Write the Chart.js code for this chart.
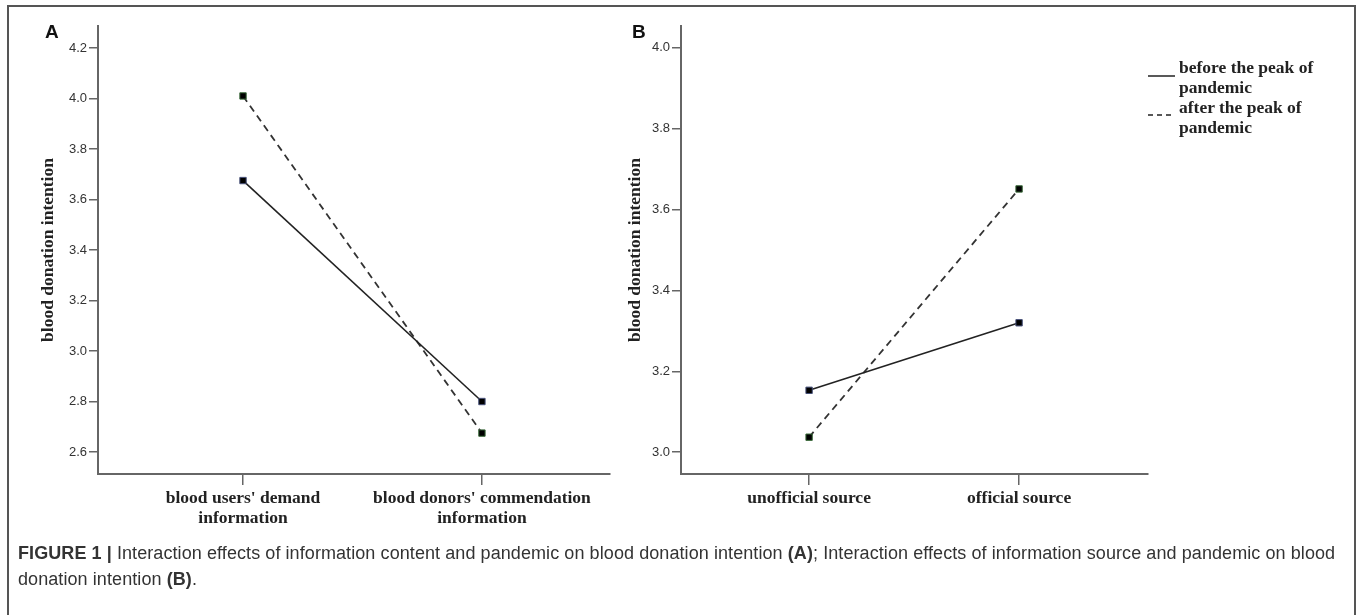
<!DOCTYPE html>
<html>
<head>
<meta charset="utf-8">
<script src="https://cdn.jsdelivr.net/npm/chart.js"></script>
<style>
body{margin:0;background:#fff;width:1357px;height:615px;overflow:hidden;position:relative;font-family:"Liberation Sans",Arial,sans-serif}
#frame{position:absolute;left:7px;top:5px;width:1345px;height:700px;border:2px solid #555}
canvas{position:absolute}
#chartA{left:0;top:0}
#chartB{left:620px;top:0}
.plab{position:absolute;font:bold 19px "Liberation Sans",Arial,sans-serif;line-height:19px;color:#111}
#legend{position:absolute;left:1148px;top:57px;font:bold 17.5px "Liberation Serif","Times New Roman",serif;color:#222;line-height:20px}
.item{display:flex;align-items:flex-start}
.item svg{flex:none;margin-right:4px}
.item div{width:165px}
#caption{position:absolute;left:18px;top:540px;width:1335px;font:18px "Liberation Sans Narrow","Liberation Sans",sans-serif;letter-spacing:0.08px;color:#333;line-height:26px;white-space:nowrap}
</style>
</head>
<body>
<div id="frame"></div>
<canvas id="chartA" width="640" height="545"></canvas>
<canvas id="chartB" width="538" height="545"></canvas>
<div class="plab" style="left:45px;top:22px">A</div>
<div class="plab" style="left:632px;top:22px">B</div>
<div id="legend"></div>
<div id="caption"><b>FIGURE 1 |</b> Interaction effects of information content and pandemic on blood donation intention <b>(A)</b>; Interaction effects of information source and pandemic on blood<br>donation intention <b>(B)</b>.</div>
<script>
// categories
var catsA=[["blood users' demand","information"],["blood donors' commendation","information"]];
var catsB=["unofficial source","official source"];
var seriesNames=["before the peak of pandemic","after the peak of pandemic"];
// values
var beforeA=[3.675,2.80];
var afterA=[4.01,2.675];
var beforeB=[3.153,3.32];
var afterB=[3.037,3.651];
// y tick labels
var ticksA=[2.6,2.8,3.0,3.2,3.4,3.6,3.8,4.0,4.2];
var ticksB=[3.0,3.2,3.4,3.6,3.8,4.0];

var serif={family:"'Liberation Serif','Times New Roman',serif",size:17.5,weight:'bold',lineHeight:1.15};

function pts(arr){
  return arr.map(function(v,i){return {x:i,y:v};});
}

function panel(id,cats,before,after,yTicks,yMin,yMax,xMin,xMax,axisW,padRight,titlePad){
  var ctx=document.getElementById(id).getContext('2d');
  new Chart(ctx,{
    type:'line',
    data:{datasets:[
      {label:seriesNames[0],data:pts(before),borderColor:'#222',borderWidth:1.6,
       pointStyle:'rect',pointRadius:4.5,pointBackgroundColor:'#000',pointBorderColor:'#46507a',pointBorderWidth:1},
      {label:seriesNames[1],data:pts(after),borderColor:'#333',borderWidth:1.8,borderDash:[7,5],
       pointStyle:'rect',pointRadius:4.5,pointBackgroundColor:'#000',pointBorderColor:'#3b6b3b',pointBorderWidth:1}
    ]},
    options:{
      responsive:false,animation:false,
      layout:{padding:{top:26,right:padRight,left:0,bottom:0}},
      plugins:{legend:{display:false},tooltip:{enabled:false}},
      scales:{
        x:{type:'linear',min:xMin,max:xMax,
          afterBuildTicks:function(s){s.ticks=cats.map(function(c,i){return {value:i};});},
          afterFit:function(s){s.height=71;},
          grid:{drawOnChartArea:false,tickLength:11,color:'#666',lineWidth:1.5},
          border:{display:true,color:'#666',width:2},
          ticks:{autoSkip:false,maxRotation:0,padding:3,color:'#222',font:serif,
            callback:function(v){return cats[v];}}
        },
        y:{min:yMin,max:yMax,
          afterBuildTicks:function(s){s.ticks=yTicks.map(function(v){return {value:v};});},
          afterFit:function(s){s.width=axisW;},
          grid:{drawOnChartArea:false,tickLength:9,color:'#666',lineWidth:1.5},
          border:{display:true,color:'#666',width:2},
          ticks:{padding:2,color:'#333',font:{family:"'Liberation Sans',Arial,sans-serif",size:13},
            callback:function(v){return v.toFixed(1);}},
          title:{display:true,text:'blood donation intention',color:'#222',
            font:{family:serif.family,size:17.5,weight:'bold'},padding:{top:titlePad,bottom:0}}
        }
      }
    }
  });
}

panel('chartA',catsA,beforeA,afterA,ticksA,2.513,4.287,-0.607,1.536,98,30,37.5);
panel('chartB',catsB,beforeB,afterB,ticksB,2.946,4.054,-0.61,1.614,61,10,4.5);

// legend
var lg=document.getElementById('legend');
seriesNames.forEach(function(n,i){
  var y=i==0?19:18;
  var dash=i==0?'':' stroke-dasharray="5,4"';
  var it=document.createElement('div');
  it.className='item';
  it.innerHTML='<svg width="27" height="40"><line x1="0" y1="'+y+'" x2="27" y2="'+y+'" stroke="#222" stroke-width="1.5"'+dash+'/></svg><div>'+n+'</div>';
  lg.appendChild(it);
});
</script>
</body>
</html>
